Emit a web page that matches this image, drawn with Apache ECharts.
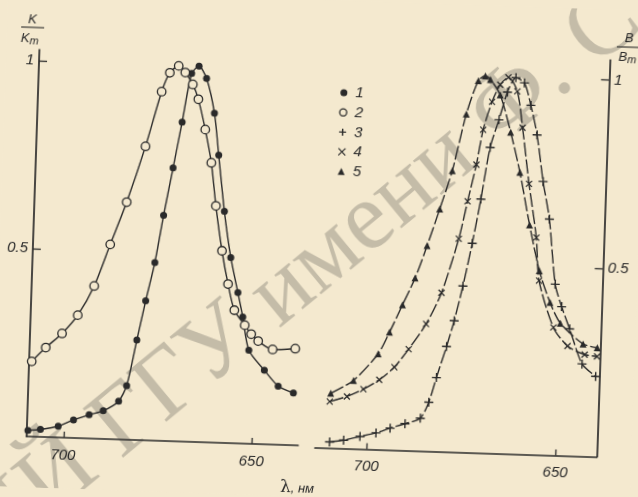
<!DOCTYPE html>
<html><head><meta charset="utf-8">
<script src="https://cdn.jsdelivr.net/npm/echarts@6/dist/echarts.min.js"></script>
<style>
html,body{margin:0;padding:0;background:#f4e9cf;overflow:hidden;}
#c{width:638px;height:497px;transform:rotate(1.9deg);transform-origin:319px 248.5px;}
</style></head><body><div id="c"></div>
<script>
// ---- data (wavelength in nm, relative values) ----
const wl1 = [709.5,706.2,701.5,697.5,693.4,689.7,685.7,683.7,681.4,679.4,677.3,675.4,673.3,671.3,669.2,667.3,665.2,662.8,661.3,659.3,657.2,655.0,653.5,651.6,647.3,643.5,639.4];
const k1  = [0.016,0.020,0.030,0.048,0.063,0.075,0.102,0.144,0.266,0.371,0.474,0.600,0.727,0.850,0.980,1.000,0.968,0.876,0.765,0.616,0.494,0.401,0.337,0.249,0.197,0.156,0.139];
const wl2 = [709.1,705.5,701.3,697.3,693.2,689.3,685.3,680.8,677.0,675.0,672.7,670.9,668.8,667.2,665.1,663.2,661.6,659.6,657.7,655.8,652.9,651.1,649.2,645.3,639.3];
const k2  = [0.200,0.238,0.277,0.327,0.406,0.518,0.632,0.782,0.929,0.980,0.999,0.982,0.951,0.912,0.832,0.744,0.630,0.511,0.423,0.354,0.315,0.292,0.274,0.253,0.257];
const wl3 = [709.9,706.2,701.9,697.7,694.0,690.1,686.1,684.0,682.2,679.8,678.0,676.0,673.9,672.0,670.0,667.9,665.9,663.8,661.5,659.6,657.7,655.7,653.7,651.6,649.7,647.4,643.8,640.1];
const b3  = [0.016,0.022,0.033,0.044,0.058,0.071,0.087,0.130,0.196,0.279,0.348,0.441,0.555,0.673,0.811,0.885,0.959,0.998,0.985,0.926,0.848,0.725,0.626,0.454,0.395,0.337,0.245,0.213];
const wl4 = [710.2,705.7,701.4,697.3,693.4,689.8,685.4,681.6,677.5,675.5,673.5,672.0,669.9,667.9,665.8,663.3,661.6,659.4,657.0,655.9,651.7,647.8,643.2,639.9];
const b4  = [0.123,0.138,0.159,0.185,0.220,0.269,0.337,0.421,0.566,0.666,0.764,0.857,0.932,0.978,0.998,0.962,0.866,0.718,0.576,0.462,0.339,0.291,0.270,0.266];
const wl5 = [710.0,704.1,697.8,695.0,691.8,688.7,685.8,682.8,679.8,676.6,673.7,671.9,670.5,667.8,664.7,661.9,658.9,655.9,652.8,649.9,643.7,639.9];
const b5  = [0.145,0.181,0.254,0.312,0.386,0.458,0.545,0.643,0.746,0.897,0.987,1.000,0.991,0.951,0.853,0.747,0.609,0.488,0.405,0.351,0.298,0.289];
const seriesNames = ['1','2','3','4','5'];
const xTicks = [700, 650];
const yTicks = [0.5, 1];
const watermark1 = 'РЕПОЗИТОРИЙ';
const watermark2 = ' ГГУ имени Ф. Скорины';

const INK = '#2a2a2a';
const PAPER = '#f4e9cf';
const FONT = 'Liberation Sans';
const plusPath = 'path://M5,0L5,10M0,5L10,5';
const crossPath = 'path://M0,0L10,10M0,10L10,0';

const labelStyle = {fontSize: 15, fontStyle: 'italic', color: INK, fontFamily: FONT};
function xAxisCfg(grid, min, max) {
  return {
    gridIndex: grid, type: 'value', inverse: true, min: min, max: max,
    axisLine: {show: true, onZero: false, lineStyle: {color: INK, width: 1.7}},
    axisTick: {show: true, inside: true, length: 6, customValues: xTicks, lineStyle: {color: INK, width: 1.3}},
    axisLabel: Object.assign({customValues: xTicks, margin: 10}, labelStyle),
    splitLine: {show: false}
  };
}
function yAxisCfg(grid, pos, max) {
  return {
    gridIndex: grid, type: 'value', position: pos, min: 0, max: max,
    axisLine: {show: true, onZero: false, lineStyle: {color: INK, width: 1.7}},
    axisTick: {show: true, inside: true, length: 8, customValues: yTicks, lineStyle: {color: INK, width: 1.3}},
    axisLabel: Object.assign({customValues: yTicks, margin: 5, formatter: v => (v === 1 ? '1' : String(v))}, labelStyle),
    splitLine: {show: false}
  };
}
function mk(name, xs, ys, gi, symbol, size, itemStyle, dashed) {
  return {
    name: name, type: 'line', xAxisIndex: gi, yAxisIndex: gi,
    data: xs.map((x, i) => [x, ys[i]]),
    symbol: symbol, symbolSize: size, showSymbol: true, smooth: 0.25,
    lineStyle: {color: INK, width: 1.4, type: dashed ? [14, 3] : 'solid'},
    itemStyle: itemStyle, emphasis: {disabled: true}, z: 3
  };
}
const st1 = {color: INK};
const st2 = {color: PAPER, borderColor: INK, borderWidth: 1.3};
const st3 = {color: 'rgba(0,0,0,0)', borderColor: INK, borderWidth: 1.4};
const st4 = {color: 'rgba(0,0,0,0)', borderColor: INK, borderWidth: 1.2};
const st5 = {color: INK};
const wmStyle = {fontSize: 97, fontFamily: 'Liberation Serif', fill: 'rgba(110,108,100,0.36)', verticalAlign: 'middle'};

const chart = echarts.init(document.getElementById('c'));
chart.setOption({
  animation: false,
  backgroundColor: PAPER,
  grid: [
    {left: 33, right: 333.4, top: 59, bottom: 51},
    {left: 321.6, right: 34.7, top: 50.5, bottom: 49.5}
  ],
  xAxis: [xAxisCfg(0, 637.7, 709.8), xAxisCfg(1, 639.15, 713.7)],
  yAxis: [yAxisCfg(0, 'left', 1.03), yAxisCfg(1, 'right', 1.053)],
  legend: {
    orient: 'vertical', left: 334.5, top: 84.5, padding: 0, itemWidth: 7, itemHeight: 7, itemGap: 4.7,
    selectedMode: false,
    textStyle: {fontSize: 15, fontStyle: 'italic', color: INK, fontFamily: FONT, lineHeight: 15, padding: [0, 0, 0, 3]},
    data: [
      {name: seriesNames[0], icon: 'circle', itemStyle: st1},
      {name: seriesNames[1], icon: 'circle', itemStyle: st2},
      {name: seriesNames[2], icon: plusPath, itemStyle: st3},
      {name: seriesNames[3], icon: crossPath, itemStyle: st4},
      {name: seriesNames[4], icon: 'triangle', itemStyle: st5}
    ]
  },
  series: [
    mk(seriesNames[0], wl1, k1, 0, 'circle', 7, st1, false),
    mk(seriesNames[1], wl2, k2, 0, 'circle', 8.5, st2, false),
    mk(seriesNames[2], wl3, b3, 1, plusPath, 9, st3, true),
    mk(seriesNames[3], wl4, b4, 1, crossPath, 6, st4, true),
    mk(seriesNames[4], wl5, b5, 1, 'triangle', 7, st5, true)
  ],
  graphic: [
    {type: 'group', x: 93, y: 462.6, rotation: 0.7226, z: 1, silent: true, children: [
      {type: 'text', x: 0, y: 0, style: Object.assign({text: watermark1, align: 'right'}, wmStyle)},
      {type: 'text', x: 0, y: 0, style: Object.assign({text: watermark2, align: 'left'}, wmStyle)}
    ]},
    {type: 'text', x: 25, y: 29, z: 10, style: {text: 'K', fontSize: 13, fontStyle: 'italic', fontFamily: FONT, fill: INK, align: 'center', verticalAlign: 'middle'}},
    {type: 'line', z: 10, shape: {x1: 14, y1: 37, x2: 37, y2: 37}, style: {stroke: INK, lineWidth: 1.1}},
    {type: 'text', x: 23, y: 48, z: 10, style: {text: '{a|K}{b|m}', fontFamily: FONT, fill: INK, align: 'center', verticalAlign: 'middle',
      rich: {a: {fontSize: 13, fontStyle: 'italic', fontFamily: FONT, fill: INK}, b: {fontSize: 11, fontStyle: 'italic', fontFamily: FONT, fill: INK, padding: [5, 0, 0, 0]}}}},
    {type: 'text', x: 622, y: 28, z: 10, style: {text: 'B', fontSize: 13, fontStyle: 'italic', fontFamily: FONT, fill: INK, align: 'center', verticalAlign: 'middle'}},
    {type: 'line', z: 10, shape: {x1: 610, y1: 37, x2: 640, y2: 37}, style: {stroke: INK, lineWidth: 1.1}},
    {type: 'text', x: 621, y: 47.5, z: 10, style: {text: '{a|B}{b|m}', fontFamily: FONT, fill: INK, align: 'center', verticalAlign: 'middle',
      rich: {a: {fontSize: 13, fontStyle: 'italic', fontFamily: FONT, fill: INK}, b: {fontSize: 11, fontStyle: 'italic', fontFamily: FONT, fill: INK, padding: [5, 0, 0, 0]}}}},
    {type: 'text', x: 305, y: 489, z: 10, style: {text: '{a|λ}{b|, нм}', align: 'center', verticalAlign: 'middle',
      rich: {a: {fontSize: 17, fontFamily: 'DejaVu Serif', fill: INK}, b: {fontSize: 13, fontStyle: 'italic', fontFamily: FONT, fill: INK}}}}
  ]
});
</script></body></html>
